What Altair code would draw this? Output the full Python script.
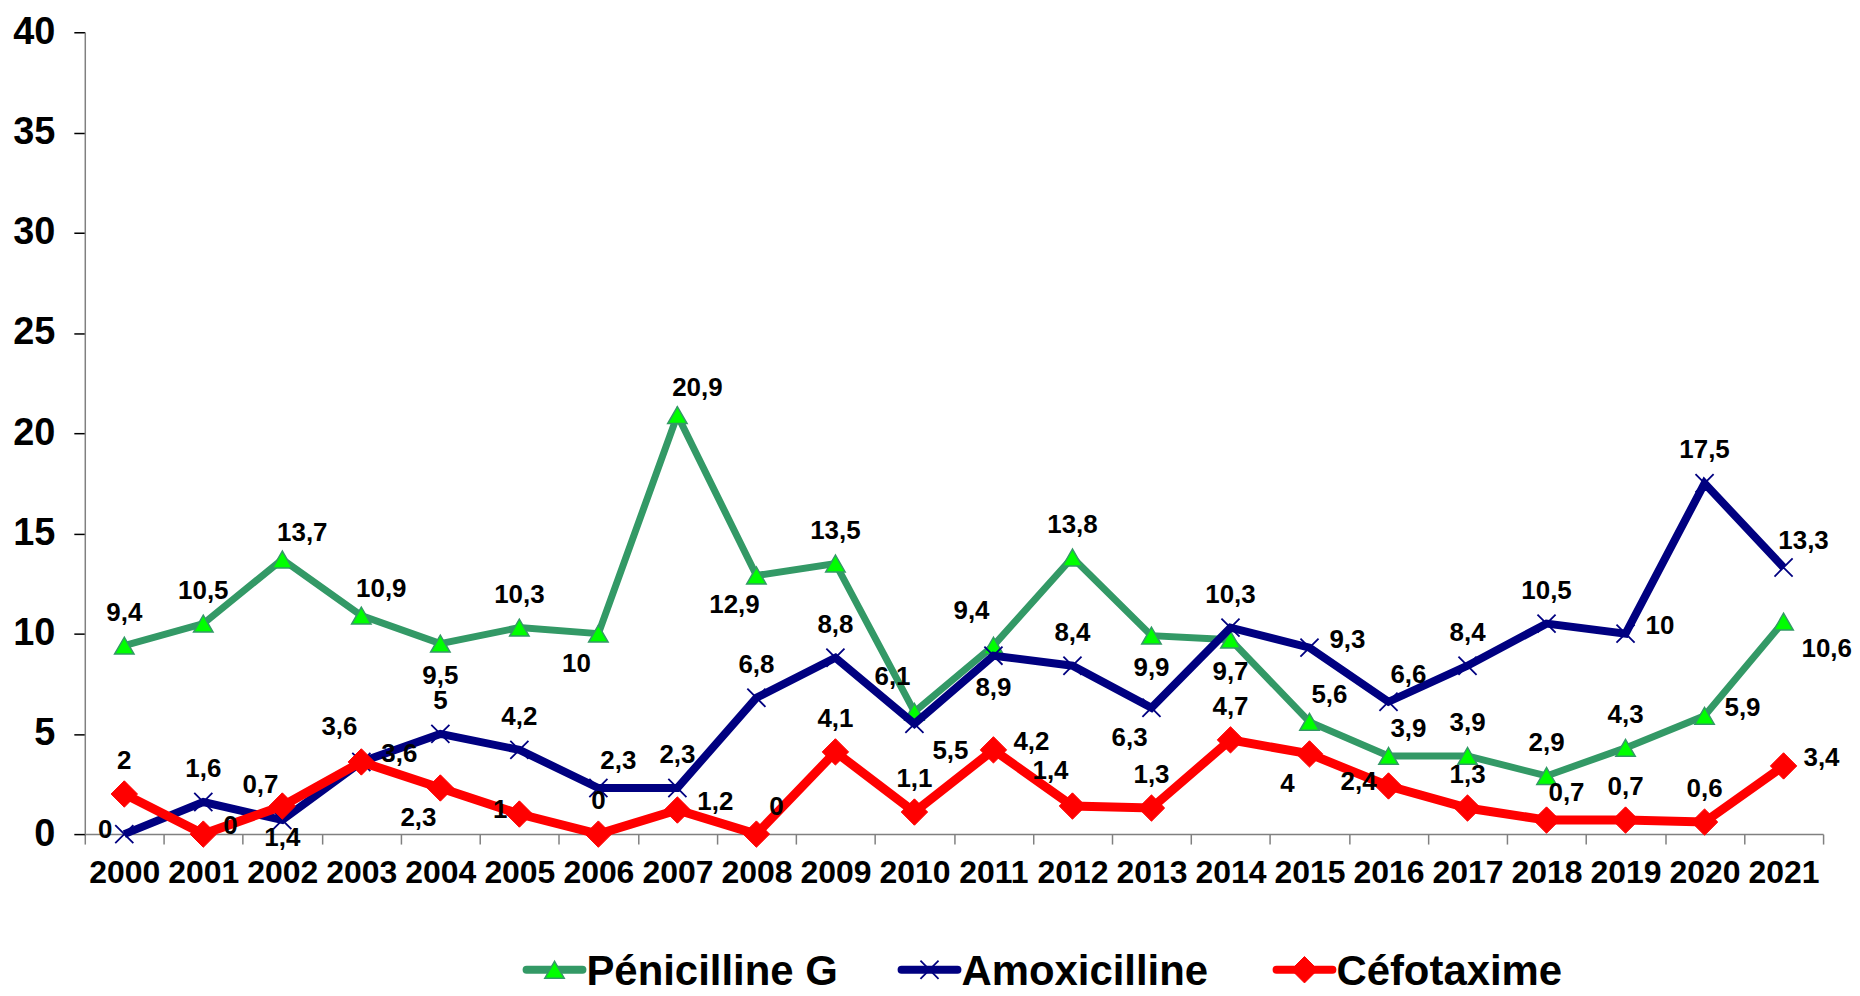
import altair as alt
import pandas as pd

FONT = "Liberation Sans"

years = [str(y) for y in range(2000, 2022)]
series_names = ["Pénicilline G", "Amoxicilline", "Céfotaxime"]

penicilline_g = [9.4, 10.5, 13.7, 10.9, 9.5, 10.3, 10, 20.9, 12.9, 13.5, 6.1,
                 9.4, 13.8, 9.9, 9.7, 5.6, 3.9, 3.9, 2.9, 4.3, 5.9, 10.6]
amoxicilline = [0, 1.6, 0.7, 3.6, 5, 4.2, 2.3, 2.3, 6.8, 8.8, 5.5,
                8.9, 8.4, 6.3, 10.3, 9.3, 6.6, 8.4, 10.5, 10, 17.5, 13.3]
cefotaxime = [2, 0, 1.4, 3.6, 2.3, 1, 0, 1.2, 0, 4.1, 1.1,
              4.2, 1.4, 1.3, 4.7, 4, 2.4, 1.3, 0.7, 0.7, 0.6, 3.4]

# where each data label sits relative to its point (T=top, B=bottom, L/R, corners)
penicilline_g_place = ["T", "T", "TR", "TR", "B", "T", "BL", "TR", "BL", "T", "TL",
                       "TL", "T", "B", "B", "TR", "TR", "T", "T", "T", "R", "BR"]
amoxicilline_place = ["L", "T", "TL", "TL", "T", "T", "TR", "T", "T", "T", "BR",
                      "B", "T", "BL", "T", "R", "TR", "T", "T", "R", "T", "TR"]
cefotaxime_place = ["T", "R", "B", "R", "BL", "L", "T", "R", "TR", "T", "T",
                    "R", "TL", "T", "T", "BL", "L", "T", "TR", "T", "T", "R"]

values_by_series = [penicilline_g, amoxicilline, cefotaxime]
place_by_series = [penicilline_g_place, amoxicilline_place, cefotaxime_place]

rows = []
for name, vals, places in zip(series_names, values_by_series, place_by_series):
    for yr, v, p in zip(years, vals, places):
        rows.append({"year": yr, "value": v, "series": name, "place": p,
                     "label": f"{v:g}".replace(".", ",")})
df = pd.DataFrame(rows)
legend_df = pd.DataFrame({"series": series_names})

# styles per series
styles = {
    "Pénicilline G": dict(line="#339966", lw=7, shape="triangle-up", fill="#00FF00",
                          stroke="#339966", sw=1.5, size=380, filled=True),
    "Amoxicilline": dict(line="#000080", lw=8, shape="M-1,-1L1,1M-1,1L1,-1", fill="#000080",
                         stroke="#000080", sw=1.8, size=330, filled=False),
    "Céfotaxime": dict(line="#FF0000", lw=9, shape="diamond", fill="#FF0000",
                       stroke="#FF0000", sw=1, size=700, filled=True),
}

W, H = 1743, 804

x_enc = alt.X("year:O", bandPosition=0.5, title=None,
              scale=alt.Scale(type="band", domain=years, paddingInner=0, paddingOuter=0),
              axis=alt.Axis(title=None, labelAngle=0, tickBand="extent", tickSize=10,
                            labelFontSize=32, labelFontWeight="bold", labelFont=FONT,
                            labelColor="black", labelPadding=14, domainColor="#808080",
                            domainWidth=1.5, tickColor="#808080", tickWidth=1.5,
                            grid=False))
y_enc = alt.Y("value:Q", title=None, scale=alt.Scale(domain=[0, 40], nice=False),
              axis=alt.Axis(title=None, values=list(range(0, 41, 5)), grid=False,
                            tickSize=11, labelFontSize=38, labelFontWeight="bold",
                            labelFont=FONT, labelColor="black", labelPadding=19,
                            domainColor="#808080", domainWidth=1.5, tickColor="black",
                            tickWidth=1.5))

base = alt.Chart(df)
main_layers = []
for name in series_names:
    s = styles[name]
    sub = base.transform_filter(alt.datum.series == name)
    main_layers.append(
        sub.mark_line(color=s["line"], strokeWidth=s["lw"]).encode(x=x_enc, y=y_enc)
    )
    if s["filled"]:
        pt = sub.mark_point(shape=s["shape"], filled=True, fill=s["fill"], stroke=s["stroke"],
                            strokeWidth=s["sw"], size=s["size"], opacity=1)
    else:
        pt = sub.mark_point(shape=s["shape"], filled=False, stroke=s["stroke"],
                            strokeWidth=s["sw"], size=s["size"], opacity=1)
    main_layers.append(pt.encode(x=x_enc, y=y_enc))

# label placement rules: (align, dx, dy)
offsets = {
    "T": ("center", 0, -33),
    "B": ("center", 0, 32),
    "L": ("right", -12, -4),
    "R": ("left", 20, -8),
    "TL": ("center", -22, -35),
    "TR": ("center", 20, -27),
    "BL": ("center", -22, 30),
    "BR": ("left", 18, 27),
}
for code, (al, dx, dy) in offsets.items():
    main_layers.append(
        base.transform_filter(alt.datum.place == code)
        .mark_text(align=al, baseline="middle", dx=dx, dy=dy, fontSize=26,
                   fontWeight="bold", font=FONT, color="black")
        .encode(x=x_enc, y=y_enc, text="label:N")
    )

main = alt.layer(*main_layers)

# legend drawn as marks below the plot
LEG_Y = 940
lx = alt.X("series:N", title=None,
           scale=alt.Scale(type="point", domain=series_names, range=[471, 1223], padding=0),
           axis=None)
lbase = alt.Chart(legend_df)
legend_layers = []
for name in series_names:
    s = styles[name]
    sub = lbase.transform_filter(alt.datum.series == name)
    legend_layers.append(
        sub.mark_rule(color=s["line"], strokeWidth=8, strokeCap="round", xOffset=-28, x2Offset=28)
        .encode(x=lx, x2="series:N", y=alt.value(LEG_Y))
    )
    if s["filled"]:
        pt = sub.mark_point(shape=s["shape"], filled=True, fill=s["fill"], stroke=s["stroke"],
                            strokeWidth=s["sw"], size=s["size"], opacity=1)
    else:
        pt = sub.mark_point(shape=s["shape"], filled=False, stroke=s["stroke"],
                            strokeWidth=s["sw"], size=s["size"], opacity=1)
    legend_layers.append(pt.encode(x=lx, y=alt.value(LEG_Y)))
legend_layers.append(
    lbase.mark_text(align="left", baseline="middle", dx=32, fontSize=42, fontWeight="bold",
                    font=FONT, color="black")
    .encode(x=lx, y=alt.value(LEG_Y + 2), text="series:N")
)
legend = alt.layer(*legend_layers)

chart = (
    alt.layer(main, legend)
    .resolve_scale(x="independent")
    .properties(width=W, height=H, padding={"left": 4, "top": 4, "right": 0, "bottom": 0},
                background="white")
    .configure_view(stroke=None)
)

chart.save("out.html", embed_options={"renderer": "svg", "actions": False})
